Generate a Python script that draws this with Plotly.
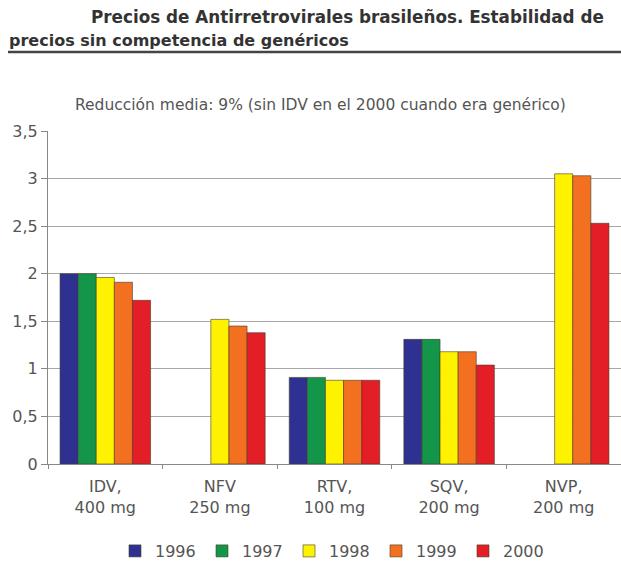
import plotly.graph_objects as go

categories = ["IDV,<br>400 mg", "NFV<br>250 mg", "RTV,<br>100 mg", "SQV,<br>200 mg", "NVP,<br>200 mg"]
years = ["1996", "1997", "1998", "1999", "2000"]
v1996 = [2.00, None, 0.91, 1.31, None]
v1997 = [2.00, None, 0.91, 1.31, None]
v1998 = [1.96, 1.52, 0.88, 1.18, 3.05]
v1999 = [1.91, 1.45, 0.88, 1.18, 3.03]
v2000 = [1.72, 1.38, 0.88, 1.04, 2.53]
series = [v1996, v1997, v1998, v1999, v2000]
colors = ["#2e3192", "#13964a", "#fff200", "#f37021", "#e31e26"]
yticks = [0, 0.5, 1, 1.5, 2, 2.5, 3, 3.5]

FONT = "DejaVu Sans, Verdana, sans-serif"
L, T, B = 48, 131, 101
PW, PH = 621 - L, 565 - T - B

def px_x(x):
    return (x - L) / PW

def px_y(y):
    return 1 + (T - y) / PH

fig = go.Figure()
for name, vals, col in zip(years, series, colors):
    fig.add_trace(go.Bar(
        x=categories, y=vals, name=name,
        marker=dict(color=col, line=dict(color="rgba(70,60,40,0.75)", width=0.8)),
    ))

fig.update_layout(
    width=621, height=565,
    margin=dict(l=L, r=0, t=T, b=B, autoexpand=False),
    paper_bgcolor="white", plot_bgcolor="white",
    barmode="group", bargap=0.21, bargroupgap=0,
    separators=",.",
    font=dict(family=FONT, color="#555555"),
    showlegend=True,
    legend=dict(orientation="h", x=115 / 621, xref="container", xanchor="left",
                yref="container", y=1 - 551 / 565, yanchor="middle",
                font=dict(size=16, color="#555555", family=FONT),
                itemwidth=30, traceorder="normal",
                entrywidth=42, entrywidthmode="pixels"),
    xaxis=dict(showline=True, linecolor="#888888", linewidth=1.2, automargin=False,
               ticks="outside", tickson="boundaries", ticklen=4, tickcolor="#888888",
               ticklabelstandoff=8,
               tickfont=dict(size=16, color="#555555", family=FONT), showgrid=False),
    yaxis=dict(range=[0, 3.5], tickvals=yticks, showline=True, linecolor="#888888", linewidth=1.2,
               automargin=False,
               ticks="outside", ticklen=6, tickcolor="#888888",
               tickfont=dict(size=16, color="#555555", family=FONT),
               showgrid=True, gridcolor="#a8a8a8", gridwidth=1, zeroline=False),
)

fig.add_annotation(text="<b>Precios de Antirretrovirales brasileños. Estabilidad de</b>",
                   xref="paper", yref="paper", x=px_x(606), y=px_y(17),
                   xanchor="right", yanchor="middle", showarrow=False,
                   font=dict(size=16.8, color="#333333", family=FONT))
fig.add_annotation(text="<b>precios sin competencia de genéricos</b>",
                   xref="paper", yref="paper", x=px_x(7), y=px_y(40),
                   xanchor="left", yanchor="middle", showarrow=False,
                   font=dict(size=16, color="#333333", family=FONT))
fig.add_shape(type="line", xref="paper", yref="paper",
              x0=px_x(8), x1=1.0, y0=px_y(52), y1=px_y(52),
              line=dict(color="#444444", width=2.5))
fig.add_annotation(text="Reducción media: 9% (sin IDV en el 2000 cuando era genérico)",
                   xref="paper", yref="paper", x=px_x(320), y=px_y(105),
                   xanchor="center", yanchor="middle", showarrow=False,
                   font=dict(size=15.5, color="#555555", family=FONT))

fig.write_html("out.html", config={"displayModeBar": False},
               post_script="document.body.style.margin='0';")
